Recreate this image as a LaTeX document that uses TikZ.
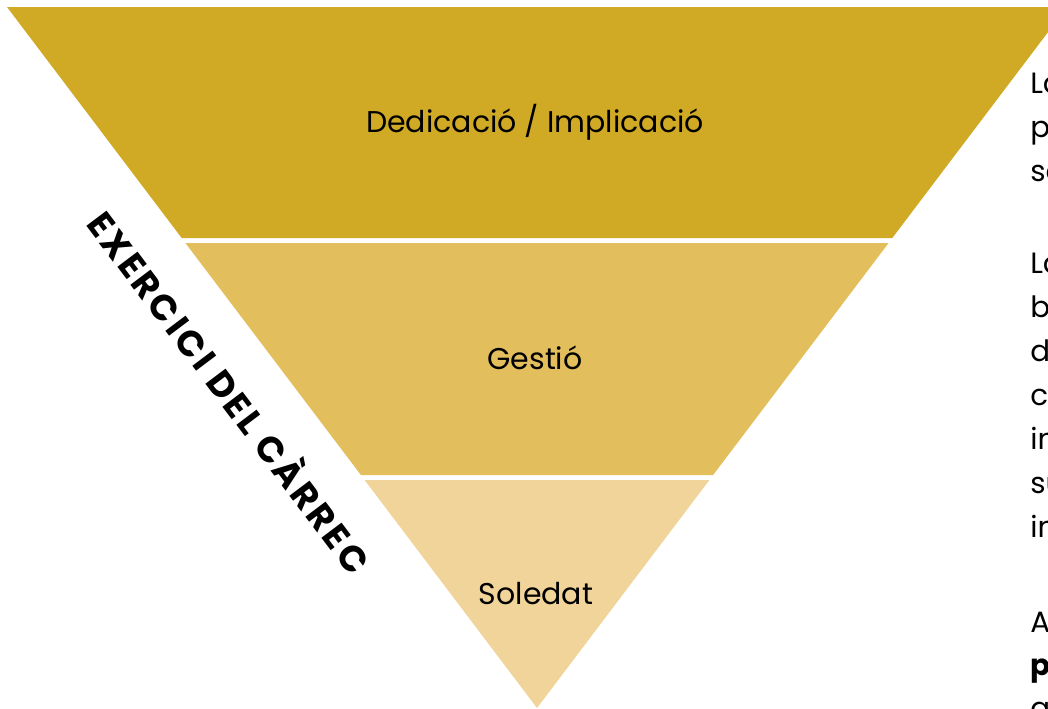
\documentclass[tikz,border=0pt]{standalone}
\usepackage{fontspec}
\setmainfont{Poppins}
\usetikzlibrary{positioning}
\definecolor{goldtop}{RGB}{208,170,36}
\definecolor{goldmid}{RGB}{227,190,92}
\definecolor{goldlow}{RGB}{240,212,153}

\begin{document}
\begin{tikzpicture}[x=0.75pt,y=-0.75pt,every text node part/.style={align=center}]

\tikzstyle{level} = [font=\fontsize{22.5}{27}\selectfont, inner sep=0]
\tikzstyle{side} = [font=\fontsize{22}{26}\selectfont, anchor=base west, inner sep=0]
\tikzstyle{sidebold} = [side, font=\bfseries\fontsize{22}{26}\selectfont]
\tikzstyle{edge} = [font=\bfseries\fontsize{27}{31}\selectfont\addfontfeatures{LetterSpace=9}, rotate=-53, inner sep=0]

\useasboundingbox (0,0) rectangle (1048,708);
\clip (0,0) rectangle (1048,708);

% the three bands of the funnel
\fill [goldtop] (7,7) -- (1067,7) -- (892.3,238) -- (181.7,238) -- cycle;
\fill [goldmid] (185.4,243) -- (888.6,243) -- (713.1,475) -- (360.9,475) -- cycle;
\fill [goldlow] (364.6,480) -- (709.4,480) -- (537,708) -- cycle;

\node [level] (dedic) at (535,122) {Dedicació / Implicació};
\node [level] (gestio) at (535,358) {Gestió};
\node [level] (soledat) at (536,594) {Soledat};

\node [edge] (carrec) at (232,390) {EXERCICI DEL CÀRREC};

% text column, cut by the page edge
\node [side] (r1) at (1030,93) {La};
\node [side] (r2) at (1030,137) {p};
\node [side] (r3) at (1030,181) {se};

\node [side] (r4) at (1030,273) {La};
\node [side] (r5) at (1030,317) {b};
\node [side] (r6) at (1030,361) {d};
\node [side] (r7) at (1030,405) {cà};
\node [side] (r8) at (1030,449) {in};
\node [side] (r9) at (1030,493) {su};
\node [side] (r10) at (1030,537) {in};

\node [side] (r11) at (1030,632) {A};
\node [sidebold] (r12) at (1030,675) {p};
\node [side] (r13) at (1030,718) {a};
\end{tikzpicture}
\end{document}
